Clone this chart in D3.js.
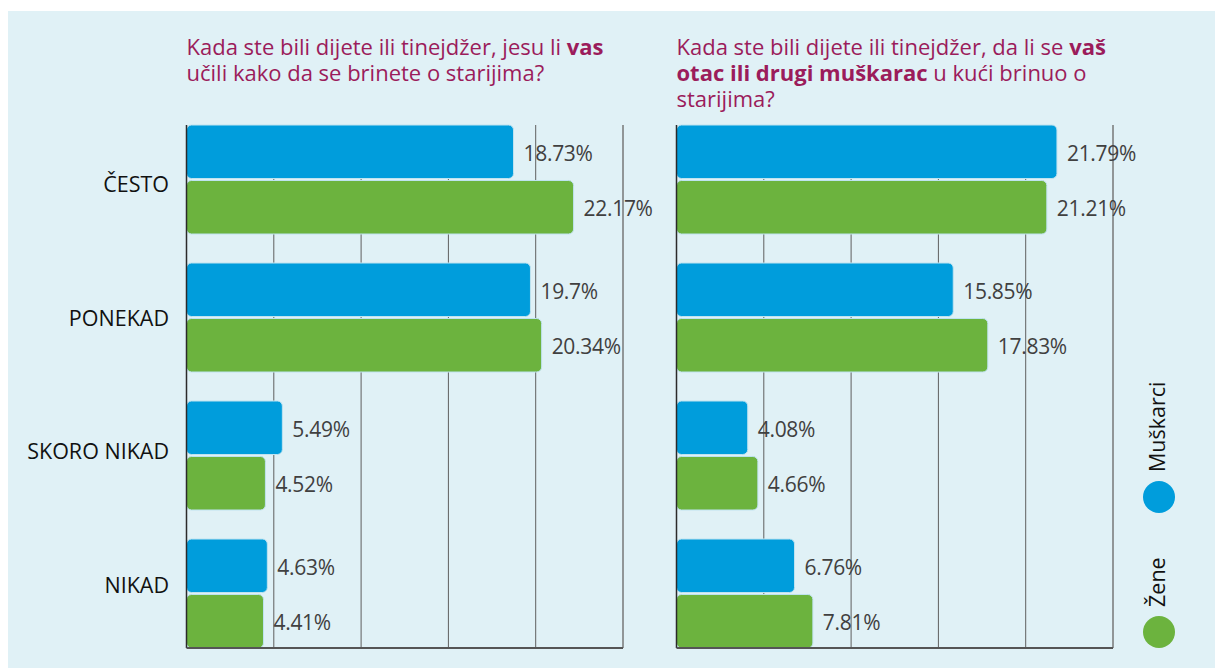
<!DOCTYPE html>
<html>
<head>
<meta charset="utf-8">
<title>Briga o starijima</title>
<style>
  body { margin: 0; background: #fff; }
  svg { display: block; font-family: "Open Sans", "Noto Sans", sans-serif; }
</style>
</head>
<body>
<svg id="chart" width="1215" height="668"></svg>
<script src="https://cdn.jsdelivr.net/npm/d3@7/dist/d3.min.js"></script>
<script>
// data
var categories = ["ČESTO", "PONEKAD", "SKORO NIKAD", "NIKAD"];
var series = ["Muškarci", "Žene"];
var colors = ["#009ddc", "#6cb33e"];
var ticks = [0, 5, 10, 15, 20, 25];

var leftMen = [18.73, 19.7, 5.49, 4.63];
var leftWomen = [22.17, 20.34, 4.52, 4.41];
var rightMen = [21.79, 15.85, 4.08, 6.76];
var rightWomen = [21.21, 17.83, 4.66, 7.81];

var svg = d3.select("#chart");
var titleColor = "#9b1c5b";

svg.append("rect")
  .attr("x", 8).attr("y", 11)
  .attr("width", 1207).attr("height", 657)
  .attr("fill", "#e0f1f6");

var plotTop = 125, plotBottom = 648;

// shared band scales
var y = d3.scaleBand().domain(categories).range([plotTop, plotBottom]).paddingInner(29 / 138).paddingOuter(0);
var ySub = d3.scaleBand().domain(series).range([0, y.bandwidth()]).paddingInner(0.036);
var yLabel = d3.scalePoint().domain(categories).range([192, 593]);

function drawPanel(x0, men, women, titleLines) {
  var x = d3.scaleLinear().domain([0, 25]).range([x0, x0 + 436.5]);
  var g = svg.append("g");

  // title
  var title = g.append("text")
    .attr("fill", titleColor)
    .style("font-size", "22px");
  titleLines.forEach(function (line, i) {
    line.forEach(function (part, j) {
      var t = title.append("tspan").text(part.t);
      if (j === 0) t.attr("x", x0).attr("y", 55 + i * 26);
      if (part.b) t.style("font-weight", "bold");
    });
  });

  // grid lines
  g.selectAll(".grid")
    .data(ticks.slice(1))
    .enter().append("line")
    .attr("x1", function (d) { return x(d); })
    .attr("x2", function (d) { return x(d); })
    .attr("y1", plotTop).attr("y2", plotBottom)
    .attr("stroke", function (d) { return d === 25 ? "#777" : "#5f5f5f"; })
    .attr("stroke-width", function (d) { return d === 25 ? 1.5 : 1; });

  var rows = categories.map(function (c, i) {
    return { cat: c, vals: [men[i], women[i]] };
  });

  var grp = g.selectAll(".grp")
    .data(rows)
    .enter().append("g")
    .attr("transform", function (d) { return "translate(0," + y(d.cat) + ")"; });

  var cells = grp.selectAll(".cell")
    .data(function (d) {
      return series.map(function (s, k) { return { s: s, k: k, v: d.vals[k] }; });
    })
    .enter();

  cells.append("rect")
    .attr("x", x(0))
    .attr("y", function (d) { return ySub(d.s); })
    .attr("width", function (d) { return x(d.v) - x(0); })
    .attr("height", ySub.bandwidth())
    .attr("rx", 5)
    .attr("fill", function (d) { return colors[d.k]; })
    .attr("stroke", "#bfe3f0")
    .attr("stroke-width", 1);

  cells.append("text")
    .attr("x", function (d) { return x(d.v) + 10; })
    .attr("y", function (d) { return ySub(d.s) + ySub.bandwidth() / 2; })
    .attr("dy", "0.42em")
    .attr("fill", "#404040")
    .style("font-size", "21px")
    .style("letter-spacing", "-0.3px")
    .text(function (d) { return d.v + "%"; });

  // axes
  g.append("line")
    .attr("x1", x(0)).attr("x2", x(0))
    .attr("y1", plotTop).attr("y2", plotBottom)
    .attr("stroke", "#2b2b2b").attr("stroke-width", 1.5);
  g.append("line")
    .attr("x1", x(0)).attr("x2", x(25))
    .attr("y1", plotBottom).attr("y2", plotBottom)
    .attr("stroke", "#555").attr("stroke-width", 2);
}

drawPanel(186.5, leftMen, leftWomen, [
  [{ t: "Kada ste bili dijete ili tinejdžer, jesu li " }, { t: "vas", b: true }],
  [{ t: "učili kako da se brinete o starijima?" }]
]);

drawPanel(676.5, rightMen, rightWomen, [
  [{ t: "Kada ste bili dijete ili tinejdžer, da li se " }, { t: "vaš", b: true }],
  [{ t: "otac ili drugi muškarac", b: true }, { t: " u kući brinuo o" }],
  [{ t: "starijima?" }]
]);

// category labels
svg.append("g").selectAll("text")
  .data(categories)
  .enter().append("text")
  .attr("x", 169)
  .attr("y", function (d) { return yLabel(d); })
  .attr("text-anchor", "end")
  .attr("fill", "#111")
  .style("font-size", "21.5px")
  .text(function (d) { return d; });

// legend (vertical)
var legendY = d3.scalePoint().domain(series).range([497, 632]);
var leg = svg.append("g").selectAll("g")
  .data(series)
  .enter().append("g");
leg.append("circle")
  .attr("cx", 1159)
  .attr("cy", function (d) { return legendY(d); })
  .attr("r", 16)
  .attr("fill", function (d, i) { return colors[i]; });
leg.append("text")
  .attr("transform", function (d) { return "translate(1165," + (legendY(d) - 25) + ") rotate(-90)"; })
  .attr("fill", "#111")
  .style("font-size", "21.5px")
  .text(function (d) { return d; });
</script>
</body>
</html>
